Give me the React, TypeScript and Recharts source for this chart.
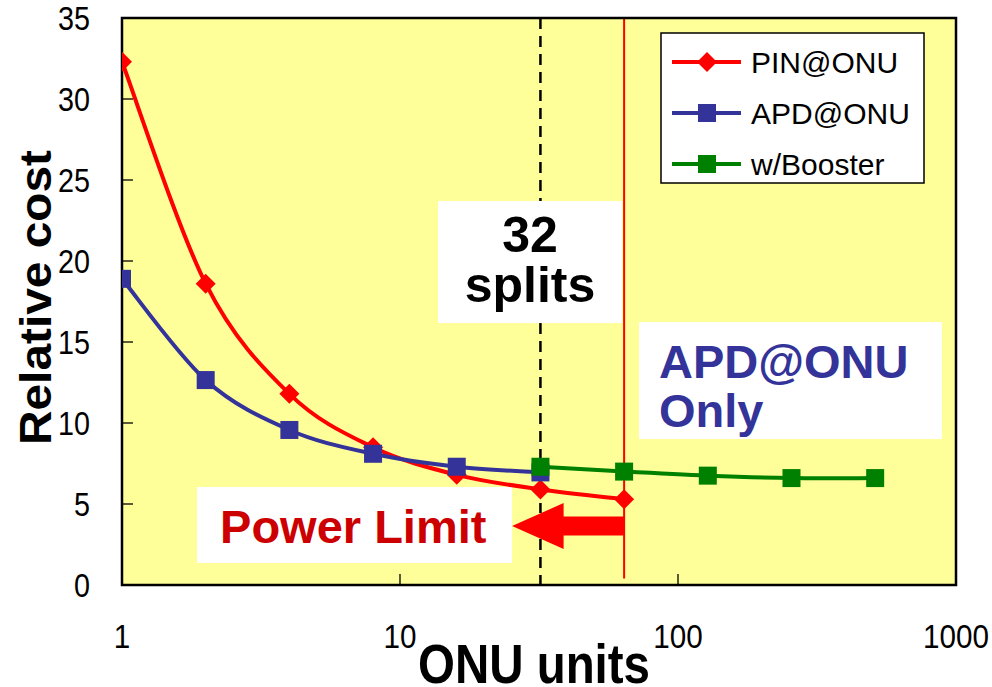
import React from 'react'
import {
  ComposedChart,
  Line,
  XAxis,
  YAxis,
  CartesianGrid,
  ReferenceArea,
  Legend,
} from 'recharts'

// relative cost vs. number of ONU units (log x axis)
const pinUnits = [1, 2, 4, 8, 16, 32, 64]
const pinCost = [32.3, 18.6, 11.8, 8.5, 6.8, 5.9, 5.3]
const apdUnits = [1, 2, 4, 8, 16, 32]
const apdCost = [18.9, 12.65, 9.57, 8.1, 7.3, 6.95]
const boosterUnits = [32, 64, 128, 256, 512]
const boosterCost = [7.3, 7.0, 6.75, 6.6, 6.6]

const xTicks = [1, 10, 100, 1000]
const yTicks = [0, 5, 10, 15, 20, 25, 30, 35]

const splitLine = 32
const powerLine = 64
// pieces of the dashed 32-split line that are not hidden by the box / arrow
const splitSegments = [[0, 2.84], [4.44, 16.17], [23.7, 35]]

const FONT = '"Liberation Sans", Arial, Helvetica, sans-serif'
const RED = '#FF0000'
const BLUE = '#333399'
const GREEN = '#008000'

const toPoints = (xs: number[], ys: number[]) => xs.map((x, i) => ({ x, y: ys[i] }))
const pinData = toPoints(pinUnits, pinCost)
const apdData = toPoints(apdUnits, apdCost)
const boosterData = toPoints(boosterUnits, boosterCost)

const series = [
  { name: 'PIN@ONU', color: RED, marker: 'diamond' },
  { name: 'APD@ONU', color: BLUE, marker: 'square' },
  { name: 'w/Booster', color: GREEN, marker: 'square' },
]

// Excel-like smoothed line (catmull-rom style bezier)
const smoothCurve = (context: any) => {
  let pts: number[][] = []
  return {
    areaStart() {},
    areaEnd() {},
    lineStart() { pts = [] },
    point(x: number, y: number) { pts.push([+x, +y]) },
    lineEnd() {
      if (!pts.length) return
      context.moveTo(pts[0][0], pts[0][1])
      const t = 1 / 6
      for (let i = 0; i < pts.length - 1; i++) {
        const p0 = pts[i - 1] || pts[i]
        const p1 = pts[i]
        const p2 = pts[i + 1]
        const p3 = pts[i + 2] || p2
        context.bezierCurveTo(
          p1[0] + (p2[0] - p0[0]) * t, p1[1] + (p2[1] - p0[1]) * t,
          p2[0] - (p3[0] - p1[0]) * t, p2[1] - (p3[1] - p1[1]) * t,
          p2[0], p2[1],
        )
      }
    },
  }
}

const Marker = ({ cx, cy, kind, color }: any) => {
  if (cx == null || cy == null) return null
  if (kind === 'diamond') {
    const r = 10
    return <polygon points={`${cx},${cy - r} ${cx + r},${cy} ${cx},${cy + r} ${cx - r},${cy}`} fill={color} />
  }
  return <rect x={cx - 9} y={cy - 9} width={18} height={18} fill={color} />
}

const dotFor = (kind: string, color: string) => (props: any) =>
  <Marker key={`${props.cx}-${props.cy}`} cx={props.cx} cy={props.cy} kind={kind} color={color} />

const XTick = ({ x, y, payload }: any) => {
  const v = payload.value
  const label = String(v)
  return (
    <g>
      {v > 1 && v < 1000 && <line x1={x} x2={x} y1={y} y2={y - 11} stroke="#000" strokeWidth={1.3} />}
      <text x={x} y={y + 63} textAnchor="middle" fontSize={33} fontFamily={FONT} fill="#000"
        textLength={label.length * 16.5} lengthAdjust="spacingAndGlyphs">{label}</text>
    </g>
  )
}

const YTick = ({ x, y, payload }: any) => {
  const v = payload.value
  const label = String(v)
  return (
    <g>
      {v > 0 && v < 35 && <line x1={x} x2={x + 11} y1={y} y2={y} stroke="#000" strokeWidth={1.3} />}
      <text x={x - 32} y={y + 12} textAnchor="end" fontSize={33} fontFamily={FONT} fill="#000"
        textLength={label.length * 16} lengthAdjust="spacingAndGlyphs">{label}</text>
    </g>
  )
}

const YTitle = ({ viewBox }: any) => {
  const cx = viewBox.x + 35
  const cy = viewBox.y + viewBox.height / 2 - 4
  return (
    <text x={cx} y={cy} transform={`rotate(-90 ${cx} ${cy})`} textAnchor="middle" dominantBaseline="central"
      fontSize={44} fontWeight="bold" fontFamily={FONT} fill="#000" textLength={295} lengthAdjust="spacingAndGlyphs">
      Relative cost
    </text>
  )
}

const XTitle = ({ viewBox }: any) => {
  const cx = viewBox.x + viewBox.width / 2 - 5
  return (
    <text x={cx} y={viewBox.y + 98} textAnchor="middle" fontSize={56} fontWeight="bold" fontFamily={FONT}
      fill="#000" textLength={232} lengthAdjust="spacingAndGlyphs">
      ONU units
    </text>
  )
}

// vertical marker lines drawn as zero-width areas
const vLine = (color: string, width: number, dash?: string) => (p: any) => (
  <line x1={p.x} x2={p.x} y1={p.y} y2={p.y + p.height} stroke={color} strokeWidth={width} strokeDasharray={dash} />
)

// white annotation boxes, text offsets relative to the box
const boxShape = (lines: { text: string; dx: number; dy: number }[], color: string, center: boolean) =>
  (p: any) => (
    <g>
      <rect x={p.x} y={p.y} width={p.width} height={p.height} fill="#fff" />
      {lines.map((l) => (
        <text key={l.text} x={center ? p.x + p.width / 2 : p.x + l.dx} y={p.y + l.dy}
          textAnchor={center ? 'middle' : 'start'} fontSize={center ? 50 : 47} fontWeight="bold"
          fontFamily={FONT} fill={color}>
          {l.text}
        </text>
      ))}
    </g>
  )

const arrowShape = (p: any) => {
  const { x, y, width: w, height: h } = p
  const mid = y + h / 2
  const hx = x + w * 0.46
  const half = h * 0.205
  const pts = [
    [x, mid], [hx, y], [hx, mid - half], [x + w, mid - half],
    [x + w, mid + half], [hx, mid + half], [hx, y + h],
  ].map((q) => q.join(',')).join(' ')
  return <polygon points={pts} fill={RED} />
}

const LegendBox = () => (
  <svg width={266} height={153} style={{ display: 'block' }}>
    <rect x={1} y={1} width={263} height={150} fill="#fff" stroke="#000" strokeWidth={1.5} />
    {series.map((s, i) => {
      const cy = 30 + i * 51
      return (
        <g key={s.name}>
          <line x1={12} x2={81} y1={cy} y2={cy} stroke={s.color} strokeWidth={4} />
          <Marker cx={47} cy={cy} kind={s.marker} color={s.color} />
          <text x={91} y={cy + 11} fontSize={30} fontFamily={FONT} fill="#000">{s.name}</text>
        </g>
      )
    })}
  </svg>
)

export default function App() {
  return (
    <div style={{ position: 'absolute', left: 0, top: 0, width: 992, height: 687, background: '#fff' }}>
      <ComposedChart width={992} height={687} margin={{ top: 18, right: 36, bottom: 0, left: 0 }}>
        <CartesianGrid fill="#FFFF99" horizontal={false} vertical={false} />
        <XAxis dataKey="x" type="number" scale="log" domain={[1, 1000]} ticks={xTicks} interval={0}
          allowDataOverflow height={102} tickSize={0} tickMargin={0} axisLine={false} tickLine={false}
          tick={<XTick />} label={<XTitle />} />
        <YAxis type="number" domain={[0, 35]} ticks={yTicks} interval={0} width={122} tickSize={0}
          tickMargin={0} axisLine={false} tickLine={false} tick={<YTick />} label={<YTitle />} />
        {splitSegments.map(([lo, hi]) => (
          <ReferenceArea key={`split-${lo}`} x1={splitLine} x2={splitLine} y1={lo} y2={hi}
            shape={vLine('#000', 2.5, '11 7')} />
        ))}
        <ReferenceArea x1={powerLine} x2={powerLine} y1={0.4} y2={35} shape={vLine(RED, 2)} />
        <ReferenceArea x1={13.7} x2={62.9} y1={16.17} y2={23.7}
          shape={boxShape([{ text: '32', dx: 0, dy: 51 }, { text: 'splits', dx: 0, dy: 101 }], '#000', true)} />
        <ReferenceArea x1={72.4} x2={890} y1={9.01} y2={16.23}
          shape={boxShape([{ text: 'APD@ONU', dx: 20, dy: 56 }, { text: 'Only', dx: 20, dy: 105 }], BLUE, false)} />
        <ReferenceArea x1={1.862} x2={25.3} y1={1.36} y2={6.05}
          shape={boxShape([{ text: 'Power Limit', dx: 23, dy: 56 }], '#CC0000', false)} />
        <ReferenceArea x1={25.3} x2={powerLine} y1={2.22} y2={5.06} shape={arrowShape} />
        <ReferenceArea x1={1} x2={1000} y1={0} y2={35} fill="none" fillOpacity={0} stroke="#000"
          strokeWidth={2.5} />
        <Line data={pinData} dataKey="y" type={smoothCurve as any} stroke={RED} strokeWidth={4}
          dot={dotFor('diamond', RED)} activeDot={false} isAnimationActive={false} />
        <Line data={apdData} dataKey="y" type={smoothCurve as any} stroke={BLUE} strokeWidth={4}
          dot={dotFor('square', BLUE)} activeDot={false} isAnimationActive={false} />
        <Line data={boosterData} dataKey="y" type={smoothCurve as any} stroke={GREEN} strokeWidth={4}
          dot={dotFor('square', GREEN)} activeDot={false} isAnimationActive={false} />
        <Legend layout="vertical" align="center" verticalAlign="middle"
          wrapperStyle={{ left: 660, top: 32, width: 266, height: 153 }} content={<LegendBox />} />
      </ComposedChart>
    </div>
  )
}
